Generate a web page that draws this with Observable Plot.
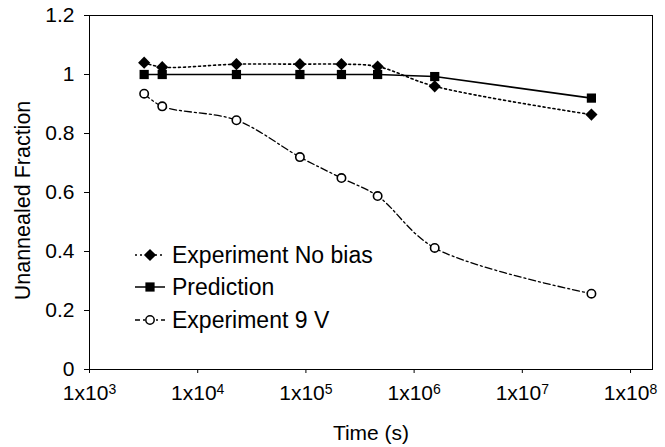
<!DOCTYPE html>
<html>
<head>
<meta charset="utf-8">
<script src="https://cdn.jsdelivr.net/npm/d3@7"></script>
<script src="https://cdn.jsdelivr.net/npm/@observablehq/plot@0.6"></script>
<style>
  html, body { margin: 0; padding: 0; background: #fff; }
  #wrap { position: relative; width: 665px; height: 447px; font-family: "Liberation Sans", Arial, sans-serif; }
  #legend { position: absolute; left: 0; top: 0; pointer-events: none; }
</style>
</head>
<body>
<div id="wrap"></div>
<script>
// Data (time in seconds, unannealed fraction)
const times      = [3200, 4700, 22800, 88000, 213000, 460000, 1550000, 43500000];
const noBias     = [1.04, 1.025, 1.035, 1.035, 1.035, 1.027, 0.96, 0.864];
const prediction = [1, 1, 1, 1, 1, 1, 0.993, 0.92];
const nineV      = [0.935, 0.892, 0.845, 0.72, 0.649, 0.588, 0.412, 0.257];
const seriesNames = ["Experiment No bias", "Prediction", "Experiment 9 V"];
const xTicks = [1e3, 1e4, 1e5, 1e6, 1e7, 1e8];
const yTicks = [0, 0.2, 0.4, 0.6, 0.8, 1, 1.2];
const xLabel = "Time (s)";
const yLabel = "Unannealed Fraction";

const rows = (vals) => times.map((t, i) => ({t, v: vals[i]}));
const dNo = rows(noBias), dPred = rows(prediction), d9 = rows(nineV);

const font = "Liberation Sans, Arial, sans-serif";
const chart = Plot.plot({
  width: 665,
  height: 447,
  marginLeft: 89,
  marginRight: 13,
  marginTop: 15,
  marginBottom: 78,
  style: {fontFamily: font, fontSize: "21px", color: "#000", background: "#fff"},
  x: {type: "log", domain: [1e3, Math.pow(10, 8.203)]},
  y: {domain: [0, 1.2]},
  marks: [
    Plot.frame({stroke: "#000", strokeWidth: 1}),
    Plot.axisY({ticks: yTicks, tickFormat: d => String(d), tickSize: 5, tickPadding: 10, fontSize: 21,
      label: yLabel, labelAnchor: "center", labelArrow: "none", labelOffset: 75}),
    Plot.axisX({ticks: xTicks, tickFormat: d => String(Math.round(Math.log10(d))), tickSize: 4, tickPadding: 12, fontSize: 21,
      label: xLabel, labelAnchor: "center", labelArrow: "none", labelOffset: 70}),
    Plot.line(dNo, {x: "t", y: "v", stroke: "#000", strokeWidth: 1.6, strokeDasharray: "2,3", curve: "catmull-rom"}),
    Plot.line(dPred, {x: "t", y: "v", stroke: "#000", strokeWidth: 1.6}),
    Plot.line(d9, {x: "t", y: "v", stroke: "#000", strokeWidth: 1.3, strokeDasharray: "7,3,2,3", curve: "catmull-rom"}),
    Plot.dot(dNo, {x: "t", y: "v", symbol: "diamond2", r: 5.5, fill: "#000", stroke: "none"}),
    Plot.dot(dPred, {x: "t", y: "v", symbol: "square", r: 5.2, fill: "#000", stroke: "none"}),
    Plot.dot(d9, {x: "t", y: "v", symbol: "circle", r: 4.2, fill: "#fff", stroke: "#000", strokeWidth: 1.6})
  ]
});

// superscript exponents on x tick labels: "1x10" + raised exponent
d3.select(chart).selectAll('g[aria-label="x-axis tick label"] text').each(function() {
  const e = this.textContent;
  const t = d3.select(this);
  t.text("1x10");
  t.append("tspan").attr("dy", "-0.45em").attr("font-size", "14px").text(e);
});
// nudge y-axis title slightly downward (as in reference)
d3.select(chart).selectAll('g[aria-label="y-axis label"] text').attr("dx", -8).attr("font-size", "21.5px");

const wrap = document.getElementById("wrap");
wrap.appendChild(chart);

// Legend overlay (inside plot area as in the reference)
const legendSpecs = [
  {name: seriesNames[0], dash: "2,3", sym: d3.symbolDiamond2, size: 95, fill: "#000", y: 255},
  {name: seriesNames[1], dash: null, sym: d3.symbolSquare, size: 85, fill: "#000", y: 287},
  {name: seriesNames[2], dash: "5,3,2,3", sym: d3.symbolCircle, size: 55, fill: "#fff", y: 320}
];
const lg = d3.create("svg").attr("id", "legend").attr("width", 665).attr("height", 447)
  .attr("font-family", font);
for (const s of legendSpecs) {
  const g = lg.append("g");
  g.append("line").attr("x1", 135).attr("x2", 165).attr("y1", s.y).attr("y2", s.y)
    .attr("stroke", "#000").attr("stroke-width", 1.5).attr("stroke-dasharray", s.dash);
  g.append("path").attr("d", d3.symbol(s.sym, s.size)()).attr("transform", `translate(150,${s.y})`)
    .attr("fill", s.fill).attr("stroke", s.fill === "#fff" ? "#000" : "none").attr("stroke-width", 1.5);
  g.append("text").attr("x", 172).attr("y", s.y).attr("dy", "0.36em").attr("font-size", 23).text(s.name);
}
wrap.appendChild(lg.node());
</script>
</body>
</html>
